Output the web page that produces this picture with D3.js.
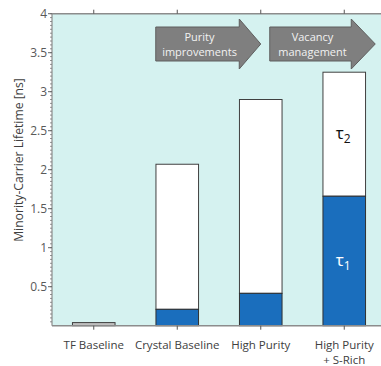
<!DOCTYPE html>
<html><head><meta charset="utf-8">
<script src="https://cdn.jsdelivr.net/npm/d3@7"></script>
<style>body{margin:0;background:#fff}svg{display:block}text{font-family:"Open Sans",sans-serif}</style>
</head><body><svg id="c" width="381" height="366"></svg>
<script>
const categories = ["TF Baseline", "Crystal Baseline", "High Purity", "High Purity\n+ S-Rich"];
const baseline = [0.04, 0, 0, 0];
const tau1 = [0, 0.21, 0.415, 1.66];
const tau2 = [0, 1.86, 2.485, 1.59];
const yTicks = [0.5, 1, 1.5, 2, 2.5, 3, 3.5, 4];
const arrowLabels = [["Purity", "improvements"], ["Vacancy", "management"]];

const svg = d3.select("#c");
const L = 52, R = 386, T = 13.7, B = 325.7;
const x = d3.scaleBand().domain(categories).range([L, R]).paddingInner(0.49).paddingOuter(0.245);
const y = d3.scaleLinear().domain([0, 4]).range([B, T]);
const cx = c => x(c) + x.bandwidth() / 2;

svg.append("rect").attr("x", L).attr("y", T).attr("width", R - L).attr("height", B - T).attr("fill", "#d5f2f0");

// bars
const g = svg.append("g");
categories.forEach((c, i) => {
  const bx = x(c), bw = x.bandwidth();
  if (baseline[i] > 0) {
    g.append("rect").attr("x", bx).attr("y", y(baseline[i])).attr("width", bw)
      .attr("height", y(0) - y(baseline[i])).attr("fill", "#bfbfbf").attr("stroke", "#404040").attr("stroke-width", 1);
  }
  if (tau1[i] + tau2[i] > 0) {
    g.append("rect").attr("x", bx).attr("y", y(tau1[i] + tau2[i])).attr("width", bw)
      .attr("height", y(tau1[i]) - y(tau1[i] + tau2[i])).attr("fill", "#ffffff").attr("stroke", "#404040").attr("stroke-width", 1);
    g.append("rect").attr("x", bx).attr("y", y(tau1[i])).attr("width", bw)
      .attr("height", y(0) - y(tau1[i])).attr("fill", "#1a6ebd").attr("stroke", "#303030").attr("stroke-width", 1);
  }
});

// tau labels on last bar
const lx = cx(categories[3]);
const t2 = svg.append("text").attr("x", lx - 1).attr("y", y(tau1[3] + tau2[3] / 2) + 5).attr("text-anchor", "middle")
  .attr("font-size", 17).attr("fill", "#111");
t2.append("tspan").text("τ");
t2.append("tspan").attr("font-size", 12).attr("dy", 4).text("2");
const t1 = svg.append("text").attr("x", lx - 1).attr("y", y(tau1[3] / 2) + 5).attr("text-anchor", "middle")
  .attr("font-size", 17).attr("fill", "#fff");
t1.append("tspan").text("τ");
t1.append("tspan").attr("font-size", 12).attr("dy", 4).text("1");

// axes lines
const axCol = "#8c8c8c";
svg.append("line").attr("x1", L).attr("x2", R).attr("y1", T).attr("y2", T).attr("stroke", axCol).attr("stroke-width", 1.5);
svg.append("line").attr("x1", L).attr("x2", R).attr("y1", B).attr("y2", B).attr("stroke", axCol).attr("stroke-width", 1.5);
svg.append("line").attr("x1", L).attr("x2", L).attr("y1", T).attr("y2", B).attr("stroke", axCol).attr("stroke-width", 1.2);

// minor ticks
d3.range(1, 81).map(k => k * 0.05).forEach(v => {
  svg.append("line").attr("x1", L - 2).attr("x2", L).attr("y1", y(v)).attr("y2", y(v)).attr("stroke", "#777").attr("stroke-width", 0.8);
});
// major ticks + labels
yTicks.forEach(v => {
  svg.append("line").attr("x1", L - 4).attr("x2", L).attr("y1", y(v)).attr("y2", y(v)).attr("stroke", "#666").attr("stroke-width", 1);
  svg.append("text").attr("x", L - 5).attr("y", y(v) + 4.5).attr("text-anchor", "end").attr("font-size", 12)
    .attr("fill", "#595959").text(v);
});
const yl = svg.append("text").attr("transform", `translate(19,160) rotate(-90)`).attr("text-anchor", "middle")
  .attr("dy", "0.35em").attr("font-size", 13).attr("fill", "#404040").text("Minority-Carrier Lifetime [ns]");
const len = yl.node().getComputedTextLength();
yl.attr("font-size", 13 * 164 / len);

// x ticks top and bottom
categories.forEach(c => {
  const px = cx(c);
  svg.append("line").attr("x1", px).attr("x2", px).attr("y1", T - 4).attr("y2", T).attr("stroke", "#555");
  svg.append("line").attr("x1", px).attr("x2", px).attr("y1", B).attr("y2", B + 4).attr("stroke", "#555");
  c.split("\n").forEach((ln, k) => {
    svg.append("text").attr("x", px).attr("y", 349 + k * 14.5).attr("text-anchor", "middle")
      .attr("font-size", 11.5).attr("fill", "#404040").text(ln);
  });
});

// arrows (annotation shapes)
const ay0 = 19, ay1 = 69, by0 = 27, by1 = 61;
const arrowSpec = [
  {x0: cx(categories[1]) - 21.5, xb: cx(categories[2]) - 21.5, xt: cx(categories[2])},
  {x0: cx(categories[2]) + 9, xb: cx(categories[3]) + 7, xt: cx(categories[3]) + 31}
];
arrowLabels.forEach((lines, i) => {
  const s = arrowSpec[i];
  const pts = [[s.x0, by0], [s.xb, by0], [s.xb, ay0], [s.xt, (ay0 + ay1) / 2], [s.xb, ay1], [s.xb, by1], [s.x0, by1]];
  svg.append("polygon").attr("points", pts.map(p => p.join(",")).join(" "))
    .attr("fill", "#7f7f7f").attr("stroke", "#5f5f5f").attr("stroke-width", 1);
  const tx = (s.x0 + s.xb) / 2 + 2;
  lines.forEach((ln, k) => {
    svg.append("text").attr("x", tx).attr("y", 40.5 + k * 15).attr("text-anchor", "middle")
      .attr("font-size", 11).attr("fill", "#f2f2f2").text(ln);
  });
});
</script></body></html>
